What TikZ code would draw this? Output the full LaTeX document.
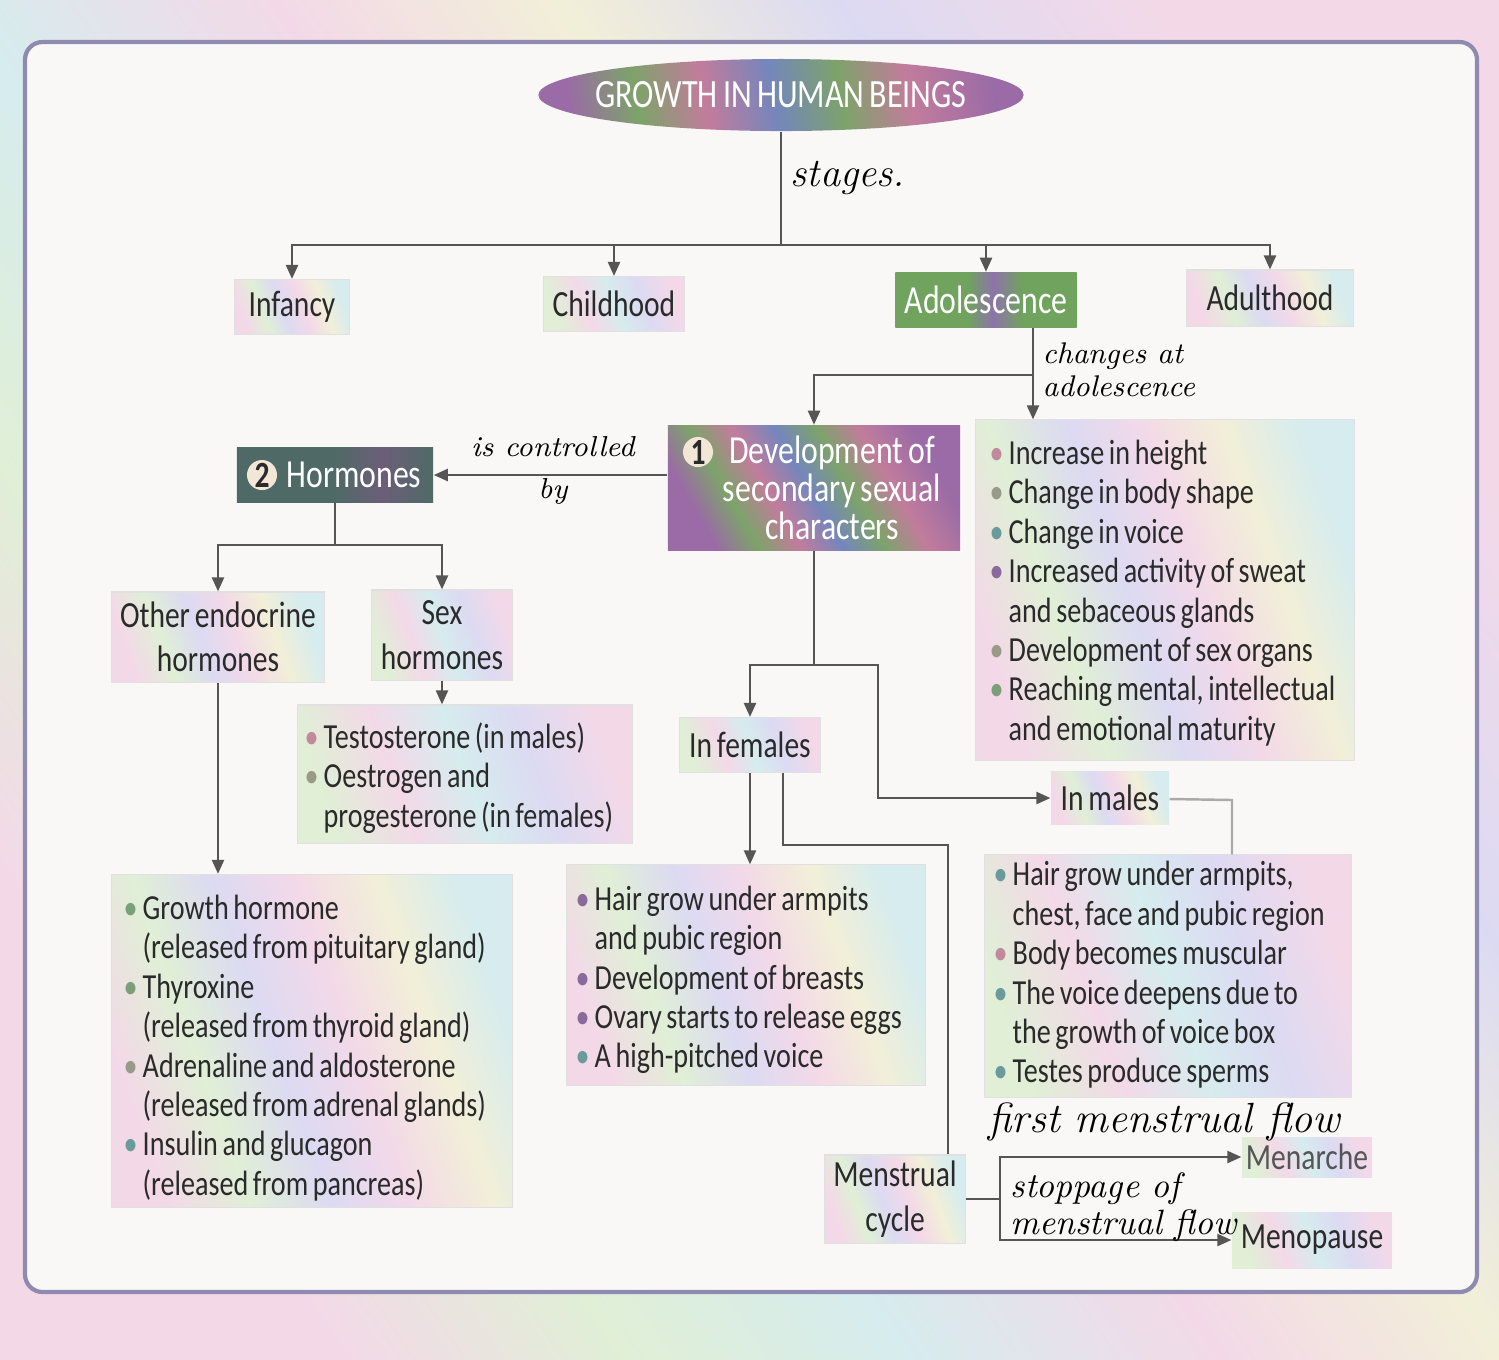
\documentclass[tikz,border=0pt]{standalone}
\usepackage{fontspec}
\usetikzlibrary{arrows.meta,shapes.geometric}
\newfontfamily\carl{Carlito}[FakeStretch=0.8, WordSpace=0.72]
\definecolor{pkA}{HTML}{F3D9E8}
\definecolor{grA}{HTML}{E0EFD6}
\definecolor{lvA}{HTML}{DCDAF2}
\definecolor{ylA}{HTML}{F2EFD8}
\definecolor{cyA}{HTML}{D6ECEE}
\definecolor{vP}{HTML}{9A6BA6}
\definecolor{vG}{HTML}{7DA36A}
\definecolor{vK}{HTML}{C27C9C}
\definecolor{vB}{HTML}{7486BC}
\definecolor{aG}{HTML}{6FA35E}
\definecolor{aP}{HTML}{8E73AA}
\definecolor{hT}{HTML}{4F6A66}
\definecolor{hP}{HTML}{6C5E78}
\definecolor{lineC}{HTML}{555555}
\definecolor{txt}{HTML}{2A2A2A}
\definecolor{paper}{HTML}{FAF8F7}
\definecolor{frameC}{HTML}{8E8AB0}
\definecolor{peach}{HTML}{F2E6D6}
\definecolor{bP}{HTML}{C08A9A}
\definecolor{bG}{HTML}{9A9A8A}
\definecolor{bT}{HTML}{6A9A9A}
\definecolor{bV}{HTML}{8A6A9A}
\definecolor{bE}{HTML}{7AA07A}
\pgfdeclarehorizontalshading{pastelA}{100bp}{color(0bp)=(pkA); color(25bp)=(pkA); color(35bp)=(grA); color(45bp)=(lvA); color(55bp)=(pkA); color(65bp)=(ylA); color(75bp)=(cyA); color(100bp)=(cyA)}
\pgfdeclarehorizontalshading{pastelB}{100bp}{color(0bp)=(grA); color(25bp)=(grA); color(38bp)=(pkA); color(50bp)=(cyA); color(62bp)=(lvA); color(75bp)=(pkA); color(100bp)=(pkA)}
\pgfdeclarehorizontalshading{vivid}{100bp}{color(0bp)=(vP); color(25bp)=(vP); color(33bp)=(vG); color(41bp)=(vK); color(49bp)=(vB); color(57bp)=(vG); color(65bp)=(vK); color(75bp)=(vP); color(100bp)=(vP)}
\pgfdeclarehorizontalshading{adolS}{100bp}{color(0bp)=(aG); color(25bp)=(aG); color(45bp)=(aG); color(52bp)=(aP); color(60bp)=(aG); color(75bp)=(aG); color(100bp)=(aG)}
\pgfdeclarehorizontalshading{hormS}{100bp}{color(0bp)=(hT); color(25bp)=(hT); color(50bp)=(hT); color(62bp)=(hP); color(75bp)=(hT); color(100bp)=(hT)}
\pgfdeclarehorizontalshading{bandS}{100bp}{color(0bp)=(pkA); color(25bp)=(pkA); color(33bp)=(grA); color(41bp)=(cyA); color(50bp)=(pkA); color(58bp)=(ylA); color(66bp)=(lvA); color(75bp)=(pkA); color(100bp)=(pkA)}
\newcommand\bu[1]{\makebox[0.24cm][c]{\textcolor{#1}{•}}}
\newcommand\cn{\hspace*{0.24cm}}
\tikzset{
  ln/.style={draw=lineC, line width=0.7pt},
  arr/.style={ln, -{Triangle[length=4pt,width=3.4pt]}},
  pbox/.style={shade, shading=pastelA, shading angle=20, draw=black!12, line width=0.3pt,
    inner sep=0pt, font=\carl\fontsize{10.5}{12.6}\selectfont, text=txt, align=center},
  pboxB/.style={pbox, shading=pastelB},
  lsttext/.style={align=left, inner sep=0pt, anchor=west, text=txt, font=\carl\fontsize{10}{11.2}\selectfont},
  vbox/.style={shade, draw=none, inner sep=0pt},
  wtxt/.style={text=white, align=center, inner sep=0pt, font=\carl\fontsize{11.3}{10.8}\selectfont},
  numc/.style={circle, fill=peach, minimum size=0.3cm, inner sep=0pt, text=txt,
    font=\carl\bfseries\fontsize{10.5}{10.5}\selectfont},
  hand/.style={font=\itshape\fontsize{8.5}{9.5}\selectfont, text=black, inner sep=0pt, align=left, anchor=west},
}
\begin{document}
\begin{tikzpicture}[x=0.01cm,y=-0.01cm]
\useasboundingbox (0,0) rectangle (1499,1359);
% background band and frame
\fill[shade, shading=bandS, shading angle=35] (0,0) rectangle (1499,1359);
\draw[fill=paper, draw=frameC, line width=1.2pt, rounded corners=5pt] (25,42) rectangle (1477,1292);

% title
\node[ellipse, shade, shading=vivid, shading angle=10, minimum width=4.85cm, minimum height=0.72cm, inner sep=0pt] (title) at (781,95) {};
\node[text=white, font=\carl\fontsize{11.4}{11.4}\selectfont, inner sep=0pt] (titletext) at (title) {GROWTH IN HUMAN BEINGS};

% stages
\node[pbox, minimum width=1.15cm, minimum height=0.55cm] (infancy) at (292,307) {Infancy};
\node[pboxB, minimum width=1.40cm, minimum height=0.55cm] (childhood) at (614,304) {Childhood};
\node[vbox, shading=adolS, minimum width=1.81cm, minimum height=0.55cm] (adol) at (986,300) {};
\node[wtxt] (adoltext) at (adol) {Adolescence};
\node[pbox, minimum width=1.66cm, minimum height=0.56cm] (adult) at (1270,298) {Adulthood};

% development and hormones
\node[vbox, shading=vivid, shading angle=30, minimum width=2.92cm, minimum height=1.25cm] (dev) at (814,488) {};
\node[wtxt] (devtext) at (832,488) {Development of\\secondary sexual\\characters};
\node[numc] (n1) at (698,452) {1};
\node[vbox, shading=hormS, minimum width=1.96cm, minimum height=0.55cm] (horm) at (335,475) {};
\node[wtxt] (hormtext) at (354,475) {Hormones};
\node[numc] (n2) at (262,475) {2};

% changes list
\node[pbox, minimum width=3.79cm, minimum height=3.40cm] (changes) at (1165,590) {};
\node[lsttext] (changestext) at (984,593) {%
\bu{bP}Increase in height\\
\bu{bG}Change in body shape\\
\bu{bT}Change in voice\\
\bu{bV}Increased activity of sweat\\
\cn and sebaceous glands\\
\bu{bG}Development of sex organs\\
\bu{bE}Reaching mental, intellectual\\
\cn and emotional maturity};

% hormone types
\node[pbox, minimum width=2.13cm, minimum height=0.90cm] (other) at (218,637) {Other endocrine\\hormones};
\node[pboxB, minimum width=1.41cm, minimum height=0.90cm] (sex) at (442,635) {Sex\\hormones};
\node[pboxB, minimum width=3.35cm, minimum height=1.38cm] (testo) at (465,774) {};
\node[lsttext] (testotext) at (299,778) {%
\bu{bP}Testosterone (in males)\\
\bu{bG}Oestrogen and\\
\cn progesterone (in females)};
\node[pbox, minimum width=4.01cm, minimum height=3.33cm] (growth) at (312,1041) {};
\node[lsttext] (growthtext) at (118,1048) {%
\bu{bE}Growth hormone\\
\cn(released from pituitary gland)\\
\bu{bE}Thyroxine\\
\cn(released from thyroid gland)\\
\bu{bG}Adrenaline and aldosterone\\
\cn(released from adrenal glands)\\
\bu{bT}Insulin and glucagon\\
\cn(released from pancreas)};

% females / males
\node[pboxB, minimum width=1.40cm, minimum height=0.55cm] (females) at (750,745) {In females};
\node[pbox, minimum width=1.18cm, minimum height=0.53cm, draw=none] (males) at (1110,798) {In males};
\node[pbox, minimum width=3.58cm, minimum height=2.20cm] (fembox) at (746,975) {};
\node[lsttext] (femtext) at (570,980) {%
\bu{bV}Hair grow under armpits\\
\cn and pubic region\\
\bu{bV}Development of breasts\\
\bu{bV}Ovary starts to release eggs\\
\bu{bT}A high-pitched voice};
\node[pboxB, minimum width=3.67cm, minimum height=2.42cm] (malebox) at (1168,976) {};
\node[lsttext] (maletext) at (988,975) {%
\bu{bT}Hair grow under armpits,\\
\cn chest, face and pubic region\\
\bu{bP}Body becomes muscular\\
\bu{bT}The voice deepens due to\\
\cn the growth of voice box\\
\bu{bT}Testes produce sperms};

% menstrual cycle
\node[pbox, minimum width=1.40cm, minimum height=0.88cm] (menstrual) at (895,1199) {Menstrual\\cycle};
\node[pbox, draw=none, shading=pastelB, minimum width=1.30cm, minimum height=0.40cm, text=txt!80] (menarche) at (1307,1157) {Menarche};
\node[pboxB, draw=none, minimum width=1.60cm, minimum height=0.56cm] (menopause) at (1312,1240) {Menopause};

% coordinates
\coordinate (hub) at (781,245);
\coordinate (a1) at (1033,375);
\coordinate (h1) at (335,545);
\coordinate (d1) at (814,665);
\coordinate (d2) at (878,798);
\coordinate (m1) at (1232,800);
\coordinate (f1) at (783,845);
\coordinate (f2) at (948,845);
\coordinate (c1) at (1000,1199);

% connectors
\draw[ln] (title) -- (hub);
\draw[arr] (hub) -| (infancy);
\draw[arr] (hub) -| (childhood);
\draw[arr] (hub) -| (adol);
\draw[arr] (hub) -| (adult);
\draw[ln] (adol.south -| a1) -- (a1);
\draw[arr] (a1) -- (changes.north -| a1);
\draw[arr] (a1) -| (dev);
\draw[arr] (dev.west |- horm) -- (horm.east);
\draw[ln] (horm) -- (h1);
\draw[arr] (h1) -| (other);
\draw[arr] (h1) -| (sex);
\draw[arr] (sex) -- (sex |- testo.north);
\draw[arr] (other) -- (other |- growth.north);
\draw[ln] (dev) -- (d1);
\draw[arr] (d1) -| (females);
\draw[arr] (d1) -| (d2) -- (males);
\draw[ln, draw=lineC!50] (males) -- (m1) -- (malebox.north -| m1);
\draw[arr] (females) -- (females |- fembox.north);
\draw[ln, line width=0.5pt] (females.south -| f1) -- (f1) -- (f2) -- (menstrual.north -| f2);
\draw[ln] (menstrual) -- (c1);
\draw[arr] (c1) |- (menarche);
\draw[arr] (c1) |- (menopause);

% handwritten labels
\node[hand, font=\itshape\fontsize{11.5}{12}\selectfont] (lstages) at (790,178) {stages.};
\node[hand] (lchanges) at (1042,370) {changes at\\adolescence};
\node[hand, align=center, anchor=center, font=\itshape\fontsize{8.2}{9}\selectfont] (lctrl) at (553,470) {is controlled\\[3pt]by};
\node[hand, font=\itshape\fontsize{12}{12}\selectfont] (lfirst) at (988,1122) {first menstrual flow};
\node[hand, font=\itshape\fontsize{10}{10.5}\selectfont] (lstop) at (1010,1207) {stoppage of\\menstrual flow};
\end{tikzpicture}
\end{document}
